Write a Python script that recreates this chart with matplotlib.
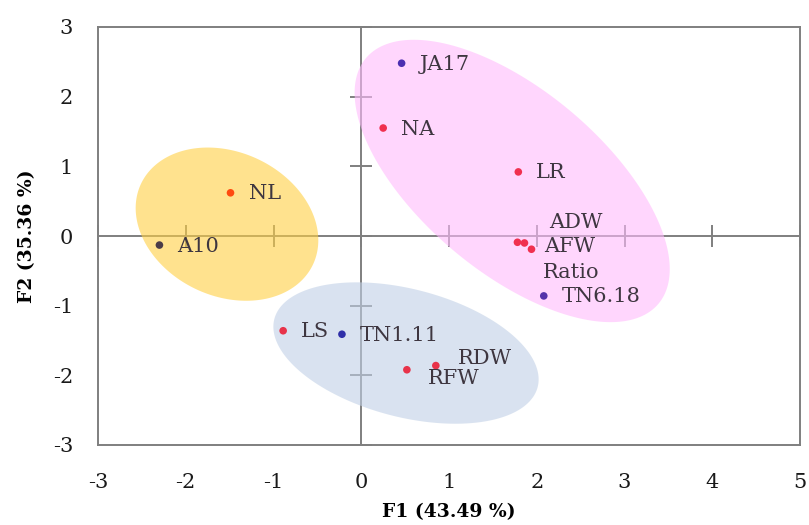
import numpy as np
import matplotlib
matplotlib.use("Agg")
import matplotlib.pyplot as plt
from matplotlib.patches import Polygon

plt.rcParams["axes.unicode_minus"] = False

# ---- data ----
labels = ["JA17", "NA", "LR", "ADW", "AFW", "Ratio", "TN6.18",
          "NL", "A10", "LS", "TN1.11", "RFW", "RDW"]
f1 = [0.46, 0.25, 1.79, 1.78, 1.86, 1.94, 2.08,
      -1.49, -2.30, -0.89, -0.22, 0.52, 0.85]
f2 = [2.48, 1.55, 0.92, -0.09, -0.10, -0.19, -0.86,
      0.62, -0.13, -1.36, -1.41, -1.92, -1.86]
point_colors = ["#4b2fb0", "#f0304f", "#f0304f", "#f0304f", "#f0304f", "#f0304f", "#5533aa",
                "#ff4a10", "#4a3b48", "#e8334a", "#2f2fa8", "#e8334a", "#e8334a"]
# label offsets in pixels (dx, dy with y up)
label_offsets = {"ADW": (32, 20), "AFW": (20, -4), "Ratio": (11, -23),
                 "RFW": (21, -9), "RDW": (22, 7)}
default_offset = (18, -1)

xticks = [-3, -2, -1, 0, 1, 2, 3, 4, 5]
yticks = [-3, -2, -1, 0, 1, 2, 3]
xlabel = "F1 (43.49 %)"
ylabel = "F2 (35.36 %)"

# group ellipses: center (data), semi-axes (pixels), angle (deg, display)
groups = [
    dict(center=(1.72, 0.79), a=191, b=91, angle=-40, color="#ffbbfd"),
    dict(center=(-1.53, 0.17), a=95, b=72, angle=-25, color="#ffd043"),
    dict(center=(0.51, -1.68), a=136, b=64, angle=-14.5, color="#c1d0e6"),
]

W, H, DPI = 809, 525, 100
fig = plt.figure(figsize=(W / DPI, H / DPI), dpi=DPI)
L, R, B, T = 98 / W, 800 / W, (H - 445) / H, (H - 27) / H
ax = fig.add_axes([L, B, R - L, T - B])
ax.set_xlim(-3, 5)
ax.set_ylim(-3, 3)

sx = (R - L) * W / 8.0   # px per data unit
sy = (T - B) * H / 6.0

FONT = "DejaVu Serif"
gray = "#7f7f7f"

for s in ax.spines.values():
    s.set_color(gray)
    s.set_linewidth(1.4)

ax.set_xticks(xticks)
ax.set_yticks(yticks)
ax.tick_params(length=0, labelsize=15, labelcolor="#1a1a1a")
ax.tick_params(axis="x", pad=20)
ax.tick_params(axis="y", pad=18)
for lab in ax.get_xticklabels() + ax.get_yticklabels():
    lab.set_fontfamily(FONT)

# zero lines with crossing ticks
ax.axhline(0, color=gray, lw=1.4, zorder=1)
ax.axvline(0, color=gray, lw=1.4, zorder=1)
ax.plot(xticks, [0] * len(xticks), ls="none", marker="|", ms=16, mew=1.4, color=gray, zorder=1, clip_on=False)
ax.plot([0] * len(yticks), yticks, ls="none", marker="_", ms=16, mew=1.4, color=gray, zorder=1, clip_on=False)

# ellipses
t = np.linspace(0, 2 * np.pi, 200)
for g in groups:
    th = np.deg2rad(g["angle"])
    px = g["a"] * np.cos(t) * np.cos(th) - g["b"] * np.sin(t) * np.sin(th)
    py = g["a"] * np.cos(t) * np.sin(th) + g["b"] * np.sin(t) * np.cos(th)
    xy = np.column_stack([g["center"][0] + px / sx, g["center"][1] + py / sy])
    ax.add_patch(Polygon(xy, closed=True, facecolor=g["color"], edgecolor="none",
                         alpha=0.6, zorder=2))

ax.scatter(f1, f2, s=30, c=point_colors, zorder=3, linewidths=0)
for name, x, y in zip(labels, f1, f2):
    dx, dy = label_offsets.get(name, default_offset)
    ax.annotate(name, (x, y), xytext=(dx, dy), textcoords="offset pixels",
                ha="left", va="center", fontsize=15, family=FONT,
                color="#3e3640", zorder=4)

ax.set_xlabel(xlabel, fontsize=13.5, fontweight="bold", family=FONT, labelpad=8)
ax.set_ylabel(ylabel, fontsize=13.5, fontweight="bold", family=FONT, labelpad=12)

fig.savefig("out.png", dpi=DPI)
